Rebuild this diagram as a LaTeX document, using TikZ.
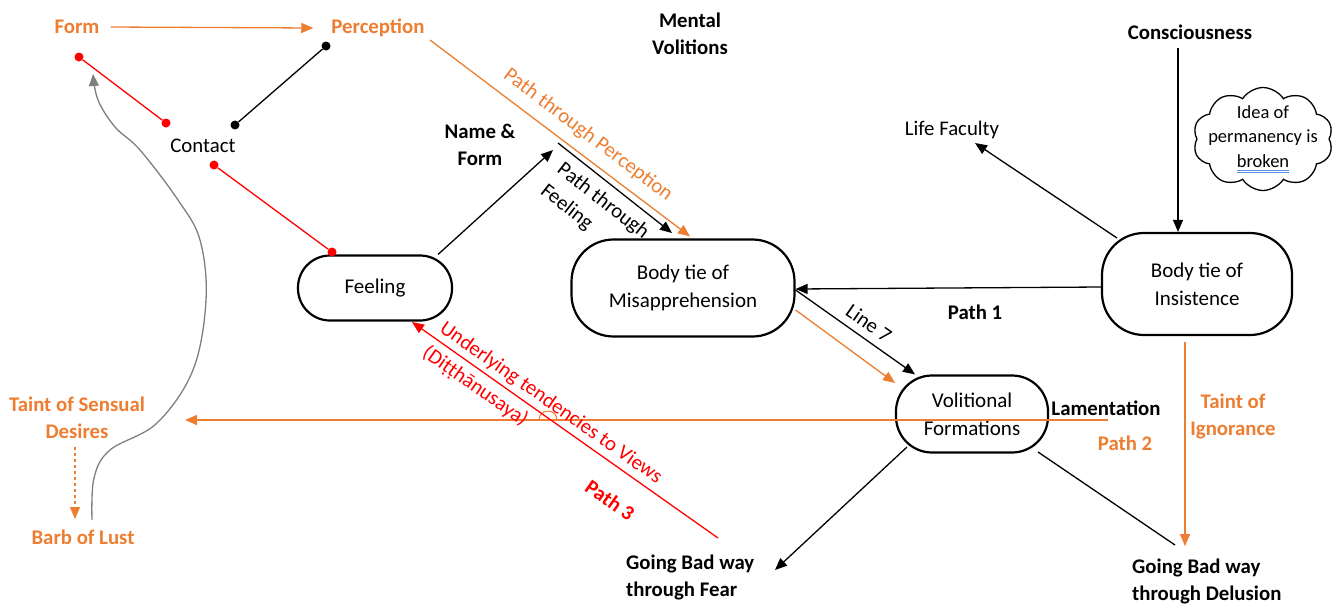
\documentclass[tikz,border=0pt]{standalone}
\usepackage{fontspec}
\setmainfont{Carlito}
\usetikzlibrary{arrows.meta,shapes.symbols}
\definecolor{ora}{HTML}{ED7D31}
\definecolor{redc}{HTML}{FF0000}
\definecolor{grayc}{HTML}{7F7F7F}
\definecolor{spell}{HTML}{5B8FE6}
\newcommand\blueul[1]{\setbox0=\hbox{#1}\rlap{\color{spell}\rule[-3.5pt]{\wd0}{0.9pt}}\rlap{\color{spell}\rule[-5.8pt]{\wd0}{0.9pt}}\box0}
\begin{document}
\begin{tikzpicture}[x=1pt,y=-1pt,
  every node/.style={font=\fontsize{20.8}{27}\selectfont, inner sep=0pt},
  lab/.style={align=center},
  blab/.style={align=center,font=\fontsize{20.8}{27}\selectfont\bfseries},
  olab/.style={blab,text=ora},
  box/.style={draw,line width=2.2pt,align=center,font=\fontsize{21}{28}\selectfont},
  tip/.style={-{Triangle[length=12pt,width=10pt]}},
  barr/.style={line width=1.3pt,tip},
  oarr/.style={draw=ora,line width=1.3pt,tip},
  dot/.style={circle,fill,minimum size=9pt,inner sep=0pt},
]
\useasboundingbox (0,0) rectangle (1333,603);

% text labels
\node[olab] (form) at (77,27) {Form};
\node[olab] (perc) at (378,28) {Perception};
\node[blab] (mv) at (690,34) {Mental\\Volitions};
\node[blab] (cons) at (1190,32) {Consciousness};
\node[lab] (life) at (952,130) {Life Faculty};
\node[draw,cloud,cloud puffs=10,cloud puff arc=115,aspect=1.36,minimum width=140pt,minimum height=103pt,line width=1.3pt] (cloud) at (1263,139) {};
\node[align=center,font=\fontsize{18.5}{24.5}\selectfont] (cloudtxt) at (cloud.center) {Idea of\\permanency is\\\blueul{broken}};
\node[lab] (contact) at (203,146) {Contact};
\node[blab] (nf) at (480,145) {Name \&\\Form};
\node[blab] (lam) at (1106,408) {Lamentation};
\node[olab] (p2) at (1125,443) {Path 2};
\node[blab] (p1) at (975,312) {Path 1};
\node[olab] (tsd) at (77,418) {Taint of Sensual\\Desires};
\node[olab] (bol) at (83,537) {Barb of Lust};
\node[olab] (ti) at (1233,416) {Taint of\\Ignorance};
\node[blab,align=left,anchor=west] (gbd) at (1132,581) {Going Bad way\\through Delusion};
\node[blab,align=left,anchor=west] (gbf) at (626,577) {Going Bad way\\through Fear};

% boxes
\node[box,rounded corners=32pt,minimum width=154pt,minimum height=65pt] (feel) at (375,288) {Feeling};
\node[box,rounded corners=42pt,minimum width=223pt,minimum height=97pt] (mis) at (683,288) {Body tie of\\Misapprehension};
\node[box,rounded corners=42pt,minimum width=190pt,minimum height=102pt] (ins) at (1197,284) {Body tie of\\Insistence};
\node[box,rounded corners=36pt,minimum width=152pt,minimum height=77pt] (vol) at (972,414) {Volitional\\Formations};

% dots
\node[dot,redc] (r1) at (79,57) {};
\node[dot,redc] (r2) at (166,123) {};
\node[dot,redc] (r3) at (214,165) {};
\node[dot,redc] (r4) at (332,252) {};
\node[dot] (k1) at (326,46) {};
\node[dot] (k2) at (235,125) {};

\draw[redc,line width=1.3pt] (r1) -- (r2);
\draw[redc,line width=1.3pt] (r3) -- (r4);
\draw[line width=1.3pt] (k1) -- (k2);

% coordinates for free ends
\coordinate (nftip) at (553,150);
\coordinate (pf1) at (558,143);
\coordinate (pf2) at (672,233);
\coordinate (p2s) at (1108,420);
\coordinate (p2e) at (185,420);
\coordinate (dash1) at (75,447);
\coordinate (dash2) at (75,519);
\coordinate (tie) at (1185,546);
\coordinate (dl) at (1175,545);
\coordinate (fe) at (775,570);
\coordinate (rs) at (718,538);
\coordinate (bs) at (92,520);

% connectors
\draw[oarr] ([xshift=11pt]form.east) -- ([xshift=-18pt]perc.west);
\draw[barr] ([xshift=-15pt]feel.north east) -- (nftip);
\draw[barr] (pf1) -- (pf2);
\draw[oarr] ([shift={(52,12)}]perc.center) -- ([shift={(7,-2)}]mis.north);
\draw[barr] ([shift={(-12,16)}]cons.center) -- ([xshift=-19pt]ins.north);
\draw[barr] ([shift={(-80,-46)}]ins.center) -- ([shift={(23,13)}]life.center);
\draw[barr] ([yshift=-3pt]ins.west) -- ([yshift=-1pt]mis.east);
\draw[barr] ([yshift=-2pt]mis.east) -- ([xshift=-57pt]vol.north);
\draw[oarr] ([yshift=-22pt]mis.east) -- ([shift={(-77,-31)}]vol.center);
\draw[oarr] (p2s) -- (p2e);
\draw[ora,line width=1pt] (539,420) arc (180:0:9pt);
\draw[oarr,dashed,line width=1.1pt] (dash1) -- (dash2);
\draw[oarr] ([shift={(-12,58)}]ins.center) -- (tie);
\draw[line width=1.3pt] ([shift={(66,38)}]vol.center) -- (dl);
\draw[barr] ([shift={(-65,33)}]vol.center) -- (fe);
\draw[redc,line width=1.3pt,tip] (rs) -- ([shift={(37,34)}]feel.center);
\draw[grayc,line width=1.3pt,tip] plot[smooth,tension=0.6] coordinates {(bs) (94,478) (110,450) (157,423) (193,370) (206,300) (200,240) (178,200) (140,150) (115,127) (98,100) (93,74)};

% rotated labels
\node[rotate=-37,text=ora] (ptp) at (588,135) {Path through Perception};
\node[rotate=-38,anchor=west,align=left] (ptf) at (551,178) {Path through\\Feeling};
\node[rotate=-35] (l7) at (869,323) {Line 7};
\node[rotate=-35,anchor=west,align=left,text=redc,font=\fontsize{20.8}{30}\selectfont] (utv) at (433,339) {Underlying tendencies to Views\\(Diṭṭhānusaya)};
\node[rotate=-35,text=redc,font=\fontsize{20.8}{27}\selectfont\bfseries] (p3) at (610,500) {Path 3};
\end{tikzpicture}
\end{document}
